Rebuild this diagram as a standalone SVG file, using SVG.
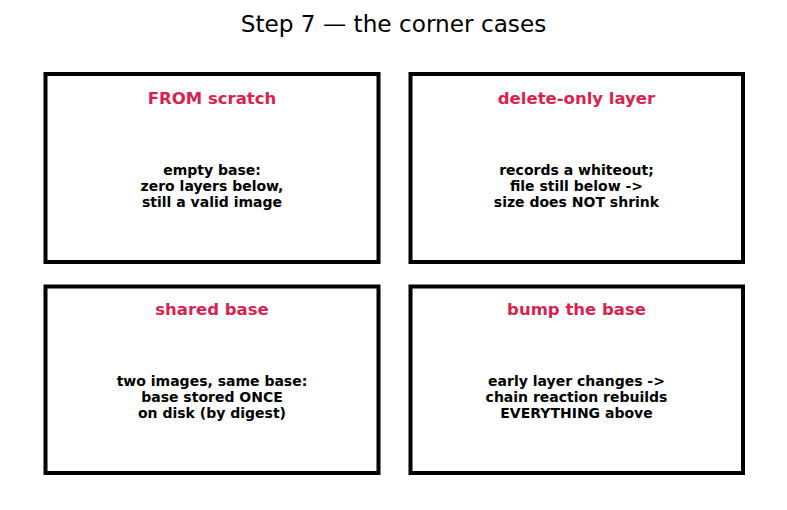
<svg xmlns="http://www.w3.org/2000/svg" width="787" height="510" viewBox="0 0 787 510">
<style>
.box{fill:#fff;stroke:#000;stroke-width:4}
.title{font-family:"DejaVu Sans",sans-serif;font-size:23.2px;fill:#000;text-anchor:middle}
.hd{font-family:"DejaVu Sans",sans-serif;font-size:16.5px;font-weight:bold;fill:#dc1f4f;text-anchor:middle}
.bd{font-family:"DejaVu Sans",sans-serif;font-size:14px;font-weight:bold;fill:#000;text-anchor:middle}
</style>
<rect width="787" height="510" fill="#fff"/>
<text class="title" x="393.5" y="32">Step 7 — the corner cases</text>
<g id="from-scratch">
<rect class="box" x="45.5" y="74" width="333" height="188"/>
<text class="hd" x="212" y="104">FROM scratch</text>
<text class="bd" x="212" y="175">empty base:</text>
<text class="bd" x="212" y="191">zero layers below,</text>
<text class="bd" x="212" y="207">still a valid image</text>
</g>
<g id="delete-only">
<rect class="box" x="410.5" y="74" width="332.5" height="188"/>
<text class="hd" x="576.5" y="104">delete-only layer</text>
<text class="bd" x="576.5" y="175">records a whiteout;</text>
<text class="bd" x="576.5" y="191">file still below -&gt;</text>
<text class="bd" x="576.5" y="207">size does NOT shrink</text>
</g>
<g id="shared-base">
<rect class="box" x="45.5" y="286.5" width="333" height="186.5"/>
<text class="hd" x="212" y="315">shared base</text>
<text class="bd" x="212" y="386">two images, same base:</text>
<text class="bd" x="212" y="402">base stored ONCE</text>
<text class="bd" x="212" y="418">on disk (by digest)</text>
</g>
<g id="bump-base">
<rect class="box" x="410.5" y="286.5" width="332.5" height="186.5"/>
<text class="hd" x="576.5" y="315">bump the base</text>
<text class="bd" x="576.5" y="386">early layer changes -&gt;</text>
<text class="bd" x="576.5" y="402">chain reaction rebuilds</text>
<text class="bd" x="576.5" y="418">EVERYTHING above</text>
</g>
<g id="connectors"/>
</svg>
